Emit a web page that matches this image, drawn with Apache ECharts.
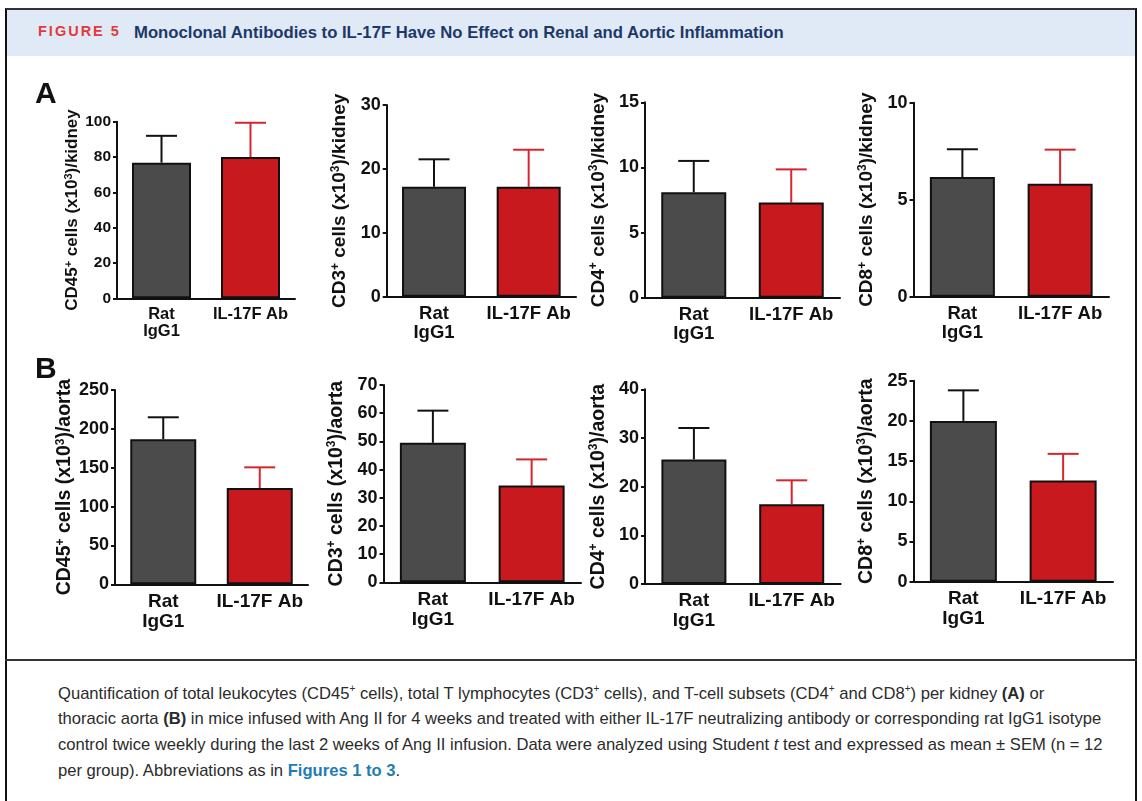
<!DOCTYPE html>
<html>
<head>
<meta charset="utf-8">
<script src="https://cdn.jsdelivr.net/npm/echarts@6/dist/echarts.min.js"></script>
<style>
  body { margin: 0; background: #fff; }
  #page { position: relative; width: 1142px; height: 801px; overflow: hidden; background: #fff; }
  #frame { position: absolute; left: 5px; top: 8px; width: 1128px; height: 800px;
           border-left: 2px solid #111; border-right: 2px solid #111; border-top: 2px solid #333; }
  #header { position: absolute; left: 7px; top: 10px; width: 1128px; height: 46px; background: #dfeaf6; }
  #header .fig { position: absolute; left: 31px; top: 13px; font: bold 14.5px "Liberation Sans", Arial, sans-serif;
                 letter-spacing: 2px; color: #e03a3e; }
  #header .ttl { position: absolute; left: 127px; top: 13px; font: bold 16.7px "Liberation Sans", sans-serif;
                 color: #1d3868; white-space: nowrap; }
  #main { position: absolute; left: 0; top: 0; width: 1142px; height: 660px; }
  #sep { position: absolute; left: 5px; top: 659px; width: 1132px; height: 2px; background: #333; }
  #caption { position: absolute; left: 58px; top: 676px; width: 1060px;
             font: 16.6px/25.7px "Liberation Sans", sans-serif; color: #2b2b2b; white-space: nowrap; }
  #caption b { font-weight: bold; }
  #caption .lnk { color: #1f7db3; font-weight: bold; }
</style>
</head>
<body>
<div id="page">
  <div id="frame"></div>
  <div id="header">
    <span class="fig">FIGURE 5</span>
    <span class="ttl">Monoclonal Antibodies to IL-17F Have No Effect on Renal and Aortic Inflammation</span>
  </div>
  <div id="main"></div>
  <div id="sep"></div>
  <div id="caption">
    Quantification of total leukocytes (CD45<sup style="font-size:10px">+</sup> cells), total T lymphocytes (CD3<sup style="font-size:10px">+</sup> cells), and T-cell subsets (CD4<sup style="font-size:10px">+</sup> and CD8<sup style="font-size:10px">+</sup>) per kidney <b>(A)</b> or<br>
    thoracic aorta <b>(B)</b> in mice infused with Ang II for 4 weeks and treated with either IL-17F neutralizing antibody or corresponding rat IgG1 isotype<br>
    control twice weekly during the last 2 weeks of Ang II infusion. Data were analyzed using Student <i>t</i> test and expressed as mean &plusmn; SEM (n = 12<br>
    per group). Abbreviations as in <span class="lnk">Figures 1 to 3</span>.
  </div>
</div>
<script>
var groups = ['Rat\nIgG1', 'IL-17F Ab'];

// kidney (panel A): mean and SEM for rat IgG1, IL-17F Ab
var kidneyCD45 = [76.8, 80.0];
var kidneyCD45Sem = [15.2, 19.4];
var kidneyCD3 = [17.2, 17.2];
var kidneyCD3Sem = [4.3, 5.8];
var kidneyCD4 = [8.1, 7.3];
var kidneyCD4Sem = [2.4, 2.55];
var kidneyCD8 = [6.17, 5.82];
var kidneyCD8Sem = [1.43, 1.76];

// aorta (panel B)
var aortaCD45 = [186.6, 123.9];
var aortaCD45Sem = [28.3, 26.6];
var aortaCD3 = [49.5, 34.3];
var aortaCD3Sem = [11.4, 9.3];
var aortaCD4 = [25.6, 16.4];
var aortaCD4Sem = [6.45, 4.9];
var aortaCD8 = [20.0, 12.6];
var aortaCD8Sem = [3.8, 3.3];

// y axis ranges [max, interval]
var yMax = [100, 30, 15, 10, 250, 70, 40, 25];
var yStep = [20, 10, 5, 5, 50, 10, 10, 5];

var cellTypes = ['CD45', 'CD3', 'CD4', 'CD8', 'CD45', 'CD3', 'CD4', 'CD8'];
var tissues = ['kidney', 'kidney', 'kidney', 'kidney', 'aorta', 'aorta', 'aorta', 'aorta'];

var means = [kidneyCD45, kidneyCD3, kidneyCD4, kidneyCD8, aortaCD45, aortaCD3, aortaCD4, aortaCD8];
var sems = [kidneyCD45Sem, kidneyCD3Sem, kidneyCD4Sem, kidneyCD8Sem, aortaCD45Sem, aortaCD3Sem, aortaCD4Sem, aortaCD8Sem];

// layout of each small plot: left, right edge, top, bottom (px), bar width, font sizes
var boxes = [
  {l: 117, r: 295, t: 121.7, b: 298.3, bw: 59, tick: 15.5, name: 17, cat: 16.5, gap: 34},
  {l: 386.7, r: 576, t: 105, b: 296.7, bw: 64, tick: 18, name: 19, cat: 18.5, gap: 36},
  {l: 645, r: 840, t: 102.3, b: 297.7, bw: 65, tick: 18, name: 19, cat: 18.5, gap: 36},
  {l: 913.5, r: 1109, t: 102.7, b: 296.7, bw: 65, tick: 18, name: 19, cat: 18.5, gap: 36},
  {l: 115, r: 308, t: 390, b: 584.3, bw: 66, tick: 18, name: 19.5, cat: 19, gap: 38},
  {l: 383.5, r: 581, t: 385, b: 582.3, bw: 66, tick: 18, name: 19.5, cat: 19, gap: 36},
  {l: 645, r: 840.6, t: 389.3, b: 584, bw: 65, tick: 18, name: 19.5, cat: 19, gap: 36},
  {l: 913.5, r: 1113, t: 380.7, b: 581.7, bw: 67, tick: 18, name: 19.5, cat: 19, gap: 36}
];

var grey = '#4b4b4b', red = '#c8191e', redErr = '#d4262c';
var font = '"Liberation Sans", Arial, sans-serif';

var myChart = echarts.init(document.getElementById('main'));

var grid = [], xAxis = [], yAxis = [], series = [];
boxes.forEach(function (bx, i) {
  grid.push({left: bx.l, top: bx.t, width: bx.r - bx.l, height: bx.b - bx.t});
  xAxis.push({
    type: 'category', gridIndex: i, data: groups,
    axisLine: {lineStyle: {color: '#111', width: 2}},
    axisTick: {show: false},
    axisLabel: {interval: 0, color: '#111', fontWeight: 'bold', fontFamily: font, fontSize: bx.cat, lineHeight: bx.cat + 1, margin: 7}
  });
  yAxis.push({
    type: 'value', gridIndex: i, min: 0, max: yMax[i], interval: yStep[i],
    splitLine: {show: false},
    axisLine: {show: true, lineStyle: {color: '#111', width: 2}},
    axisTick: {show: true, length: 4, lineStyle: {color: '#111', width: 2}},
    axisLabel: {color: '#111', fontWeight: 'bold', fontFamily: font, fontSize: bx.tick, margin: 6},
    name: '{n|' + cellTypes[i] + '}{s|+}{n| cells (x10}{s|3}{n|)/' + tissues[i] + '}',
    nameLocation: 'middle', nameGap: bx.gap,
    nameTextStyle: {
      rich: {
        n: {fontSize: bx.name, fontWeight: 'bold', fontFamily: font, color: '#111', lineHeight: bx.name + 2},
        s: {fontSize: Math.round(bx.name * 0.62), fontWeight: 'bold', fontFamily: font, color: '#111', verticalAlign: 'top', lineHeight: bx.name + 2}
      }
    }
  });
  series.push({
    type: 'bar', xAxisIndex: i, yAxisIndex: i, barWidth: bx.bw, z: 3,
    data: means[i],
    itemStyle: {
      color: function (p) { return p.dataIndex ? red : grey; },
      borderColor: '#111', borderWidth: 2
    },
    silent: true
  });
  // upper error bars (mean + SEM) with a cap
  series.push({
    type: 'custom', xAxisIndex: i, yAxisIndex: i, z: 2, silent: true,
    data: means[i].map(function (m, k) { return [k, m, m + sems[i][k]]; }),
    encode: {x: 0, y: [1, 2]},
    renderItem: function (params, api) {
      var base = api.coord([api.value(0), api.value(1)]);
      var top = api.coord([api.value(0), api.value(2)]);
      var c = params.dataIndex ? redErr : '#111';
      var half = 15.5;
      return {
        type: 'group',
        children: [
          {type: 'line', shape: {x1: base[0], y1: base[1], x2: top[0], y2: top[1]}, style: {stroke: c, lineWidth: 2}},
          {type: 'line', shape: {x1: top[0] - half, y1: top[1], x2: top[0] + half, y2: top[1]}, style: {stroke: c, lineWidth: 2}}
        ]
      };
    }
  });
});

option = {
  animation: false,
  grid: grid,
  xAxis: xAxis,
  yAxis: yAxis,
  series: series,
  graphic: [
    {type: 'text', left: 35, top: 80, style: {text: 'A', font: 'bold 30px ' + font, fill: '#111'}},
    {type: 'text', left: 35, top: 355, style: {text: 'B', font: 'bold 30px ' + font, fill: '#111'}}
  ]
};
myChart.setOption(option);
</script>
</body>
</html>
